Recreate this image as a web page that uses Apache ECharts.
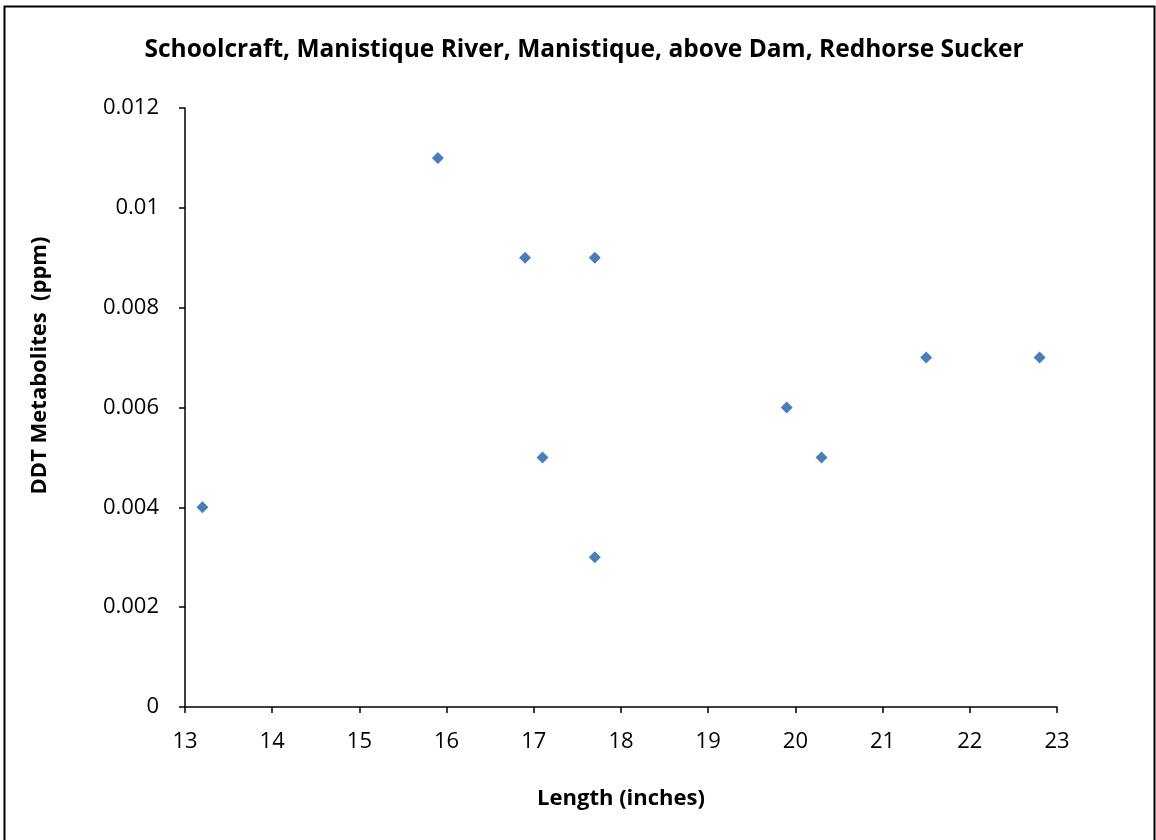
<!DOCTYPE html>
<html><head><meta charset="utf-8">
<script src="https://cdn.jsdelivr.net/npm/echarts@6/dist/echarts.min.js"></script>
<style>html,body{margin:0;padding:0;background:#fff}#c{width:1156px;height:840px}</style>
</head><body><div id="c"></div>
<script>
const titleText = 'Schoolcraft, Manistique River, Manistique, above Dam, Redhorse Sucker';
const xName = 'Length (inches)';
const yName = 'DDT Metabolites  (ppm)';
const lengths = [13.2, 15.9, 16.9, 17.7, 17.1, 17.7, 19.9, 20.3, 21.5, 22.8];
const ddt = [0.004, 0.011, 0.009, 0.009, 0.005, 0.003, 0.006, 0.005, 0.007, 0.007];
const data = lengths.map((x, i) => [x, ddt[i]]);
const font = "'Open Sans', 'Liberation Sans', sans-serif";
const chart = echarts.init(document.getElementById('c'), null, {renderer: 'canvas'});
chart.setOption({
  animation: false,
  backgroundColor: '#fff',
  graphic: [{type: 'rect', shape: {x: 4.5, y: 6.5, width: 1150, height: 840}, style: {fill: 'none', stroke: '#000', lineWidth: 2}}],
  title: {text: titleText, left: 579, top: 33, textAlign: 'center',
    textStyle: {fontFamily: font, fontSize: 24.5, fontWeight: 'bold', color: '#000'}},
  grid: {left: 185, right: 99, top: 108, bottom: 133},
  xAxis: {type: 'value', min: 13, max: 23, interval: 1, name: xName, nameLocation: 'middle', nameGap: 81,
    nameTextStyle: {fontFamily: font, fontSize: 22, fontWeight: 'bold', color: '#000'},
    axisLine: {lineStyle: {color: '#000', width: 1.5}}, axisTick: {show: true, length: 6, lineStyle: {color: '#000', width: 1.5}},
    axisLabel: {fontFamily: font, fontSize: 22, color: '#000', margin: 24}, splitLine: {show: false}},
  yAxis: {type: 'value', min: 0, max: 0.012, interval: 0.002, name: yName, nameLocation: 'middle', nameGap: 134,
    nameTextStyle: {fontFamily: font, fontSize: 22, fontWeight: 'bold', color: '#000', padding: [0, 0, 0, 84]},
    axisLine: {show: true, lineStyle: {color: '#000', width: 1.5}}, axisTick: {show: true, length: 6, lineStyle: {color: '#000', width: 1.5}},
    axisLabel: {fontFamily: font, fontSize: 22, color: '#000', margin: 26, formatter: v => v === 0 ? '0' : String(+v.toFixed(3))},
    splitLine: {show: false}},
  series: [{type: 'scatter', data: data, symbol: 'diamond', symbolSize: 12, itemStyle: {color: '#4a7ebb', opacity: 1}}]
});
</script></body></html>
